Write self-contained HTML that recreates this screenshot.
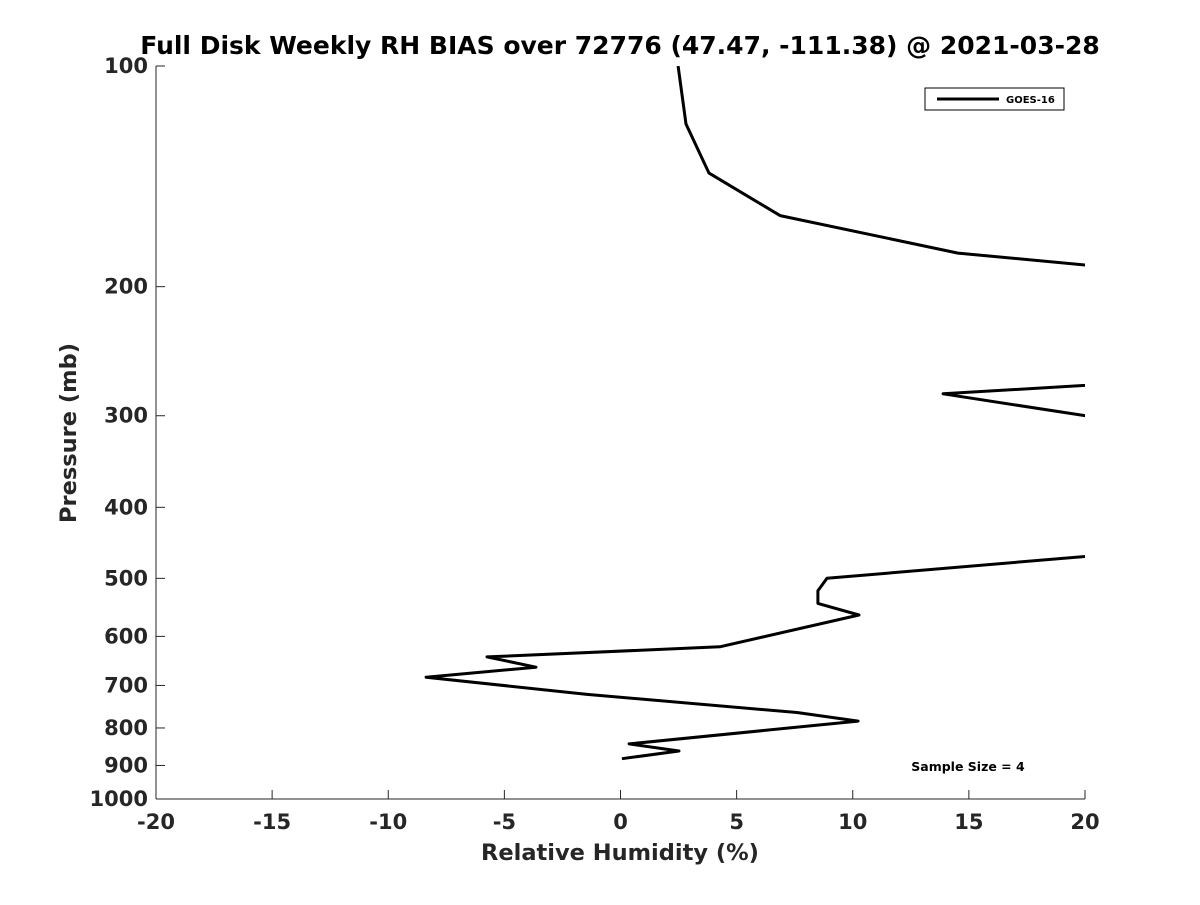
<!DOCTYPE html>
<html><head><meta charset="utf-8"><style>
html,body{margin:0;padding:0;background:#fff;}
svg text{font-family:"DejaVu Sans","Liberation Sans",sans-serif;font-weight:bold;fill:#262626;}
</style></head><body>
<svg id="chart" width="1200" height="900" viewBox="0 0 1200 900">
<defs><clipPath id="plotclip"><rect x="156" y="66" width="929" height="733"/></clipPath></defs>
<text x="620" y="54" text-anchor="middle" font-size="25" style="fill:#000">Full Disk Weekly RH BIAS over 72776 (47.47, -111.38) @ 2021-03-28</text>
<g id="axes"></g>
<g id="series" clip-path="url(#plotclip)"></g>
<text x="620" y="860" text-anchor="middle" font-size="22.5">Relative Humidity (%)</text>
<text transform="translate(76,433) rotate(-90)" text-anchor="middle" font-size="22.5">Pressure (mb)</text>
<g>
<rect x="925" y="88" width="139" height="22" fill="#fff" stroke="#000" stroke-width="1"/>
<line x1="937" y1="99" x2="999" y2="99" stroke="#000" stroke-width="3"/>
<text x="1006" y="103" font-size="10" style="fill:#000">GOES-16</text>
</g>
<text x="968" y="771" text-anchor="middle" font-size="12.5" style="fill:#000">Sample Size = 4</text>
</svg>
<script>
const xTicks=[-20,-15,-10,-5,0,5,10,15,20];
const yTicks=[100,200,300,400,500,600,700,800,900,1000];
const rhValues=[2.48,2.82,3.81,6.87,14.53,30,40,13.89,20,45,8.89,8.5,8.5,10.27,4.28,-5.75,-3.64,-8.37,-1.44,7.6,10.23,0.37,2.52,0.06];
const pressures=[100,120,140,160,180,200,250,280,300,400,500,520,541,561,620,640,661,682,720,762,783,841,860,881];
const NS='http://www.w3.org/2000/svg';
const X0=156,X1=1085,Y0=66,Y1=799;
function xs(v){return X0+(v+20)/40*(X1-X0);}
function ys(p){return Y0+Math.log10(p/100)*(Y1-Y0);}
const axes=document.getElementById('axes');
function mk(tag,attrs,parent){const e=document.createElementNS(NS,tag);for(const k in attrs)e.setAttribute(k,attrs[k]);parent.appendChild(e);return e;}
const xl=mk('line',{x1:X0,y1:Y1,x2:X1,y2:Y1,stroke:'#262626','stroke-width':1},axes);


const yl=mk('line',{x1:X0,y1:Y0,x2:X0,y2:Y1,stroke:'#262626','stroke-width':1},axes);


xTicks.forEach(v=>{
  const t=mk('line',{x1:xs(v),y1:Y1,x2:xs(v),y2:Y1-9,stroke:'#262626'},axes);
  
  
  const l=mk('text',{x:xs(v),y:Y1+30,'text-anchor':'middle','font-size':21},axes);
  l.textContent=v;
  
  
});
yTicks.forEach(p=>{
  const t=mk('line',{x1:X0,y1:ys(p),x2:X0+9,y2:ys(p),stroke:'#262626'},axes);
  
  
  const l=mk('text',{x:X0-8,y:ys(p)+7,'text-anchor':'end','font-size':21},axes);
  l.textContent=p;
  
  
});
const pts=rhValues.map((v,i)=>xs(v).toFixed(1)+','+ys(pressures[i]).toFixed(1)).join(' ');
const line=mk('polyline',{points:pts,fill:'none',stroke:'#000','stroke-width':3,'stroke-linejoin':'round'},document.getElementById('series'));


</script>
</body></html>
